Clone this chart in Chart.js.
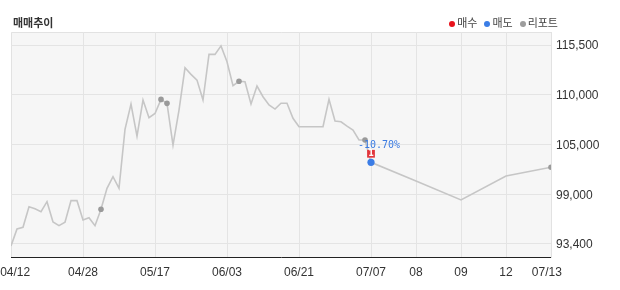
<!DOCTYPE html>
<html>
<head>
<meta charset="utf-8">
<script src="https://cdn.jsdelivr.net/npm/chart.js@4.4.0/dist/chart.umd.min.js"></script>
<style>
	body { margin: 0; background: #fff; }
	#quadro { position: relative; width: 620px; height: 290px; }
	#titulo { position: absolute; left: 13px; top: 16px; font: bold 11px "Noto Sans CJK KR"; line-height: 13px; color: #333; }
	#legenda { position: absolute; right: 62px; top: 16px; font: 11px "Noto Sans CJK KR"; line-height: 13px; color: #444; white-space: nowrap; }
	#legenda .pt { display: inline-block; width: 6px; height: 6px; border-radius: 50%; margin: 0 2px 1px 7px; vertical-align: middle; }
	#legenda .pt:first-child { margin-left: 0; }
</style>
</head>
<body>
<div id="quadro">
	<canvas id="graficoMercado" width="620" height="290"></canvas>
	<div id="titulo">매매추이</div>
	<div id="legenda"><span class="pt" style="background:#e8121b"></span>매수<span class="pt" style="background:#3b7de6"></span>매도<span class="pt" style="background:#9d9d9d"></span>리포트</div>
</div>
<script>
// dias de pregao (04/12 ~ 07/07)
var datasLinha = ['04/12','04/13','04/14','04/15','04/16','04/19','04/20','04/21','04/22','04/23','04/26','04/27','04/28','04/29','04/30',
	'05/03','05/04','05/06','05/07','05/10','05/11','05/12','05/13','05/14','05/17','05/18','05/20','05/21','05/24','05/25','05/26','05/27','05/28','05/31',
	'06/01','06/02','06/03','06/04','06/07','06/08','06/09','06/10','06/11','06/14','06/15','06/16','06/17','06/18','06/21','06/22','06/23','06/24','06/25','06/28','06/29','06/30',
	'07/01','07/02','07/05','07/06','07/07'];
var fechamento = [93180, 95070, 95250, 97540, 97320, 96990, 98100, 95840, 95430, 95810, 98210, 98210, 96070, 96320, 95430,
	97250, 99580, 100870, 99580, 106130, 108950, 105390, 109390, 107420, 107900, 109460, 109020, 104390, 108280, 112970, 112240, 111610, 109390, 114460,
	114460, 115410, 113650, 110980, 111470, 111430, 108950, 110950, 109760, 108840, 108390, 109030, 109030, 107360, 106430, 106430, 106430, 106430, 106430, 109470, 107060, 106980,
	106500, 106060, 104950, 104950, 102470];

// trecho final (espacamento largo)
var datasFinal = ['07/08', '07/09', '07/12', '07/13'];
var fechamentoFinal = [100400, 98290, 100950, 101920];

var datasRelatorio = ['05/03', '05/18', '05/20', '06/07', '07/06', '07/13'];
var datasCompra = ['07/07'];
var valoresCompra = [103420];
var qtdCompra = ['1'];
var datasVenda = ['07/07'];
var retornoVenda = ['-10.70%'];

var rotulosXDatas = ['04/12', '04/28', '05/17', '06/03', '06/21', '07/07', '07/08', '07/09', '07/12', '07/13'];
var rotulosXTexto = ['04/12', '04/28', '05/17', '06/03', '06/21', '07/07', '08', '09', '12', '07/13'];
var rotulosY = ['93,400', '99,000', '105,000', '110,000', '115,500'];
var rotuloYMin = 93400;
var rotuloYMax = 115500;

var passoFinal = 7.5;
var todasDatas = datasLinha.concat(datasFinal);
var todosValores = fechamento.concat(fechamentoFinal);

function posicao(data) {
	var i = datasLinha.indexOf(data);
	if (i >= 0) return i;
	return (datasLinha.length - 1) + (datasFinal.indexOf(data) + 1) * passoFinal;
}

function valorEm(data) {
	return todosValores[todasDatas.indexOf(data)];
}

var posMaxX = posicao(datasFinal[datasFinal.length - 1]);

var fundo = {
	id: 'fundo',
	beforeDraw: function(chart) {
		var ctx = chart.ctx, a = chart.chartArea;
		ctx.save();
		ctx.fillStyle = '#f6f6f6';
		ctx.fillRect(a.left, a.top, a.right - a.left, a.bottom - a.top);
		ctx.strokeStyle = '#e2e2e2';
		ctx.lineWidth = 1;
		ctx.beginPath();
		ctx.moveTo(a.left + 0.5, a.bottom);
		ctx.lineTo(a.left + 0.5, a.top + 0.5);
		ctx.lineTo(a.right, a.top + 0.5);
		ctx.stroke();
		ctx.restore();
	}
};

var anotacao = {
	id: 'anotacao',
	afterDatasetsDraw: function(chart) {
		var ctx = chart.ctx;
		ctx.save();
		ctx.textAlign = 'center';
		ctx.textBaseline = 'middle';
		chart.getDatasetMeta(0).data.forEach(function(p, i) {
			ctx.font = 'bold 8px "DejaVu Sans"';
			ctx.fillStyle = '#fff';
			ctx.fillText(qtdCompra[i], p.x, p.y);
		});
		chart.getDatasetMeta(1).data.forEach(function(p, i) {
			ctx.font = '10px "DejaVu Sans Mono"';
			ctx.fillStyle = '#3a7be2';
			ctx.fillText(retornoVenda[i], p.x + 8, p.y - 17);
		});
		ctx.restore();
	}
};

var grafico = new Chart(document.getElementById('graficoMercado').getContext('2d'), {
	type: 'line',
	data: {
		datasets: [{
			label: '매수',
			data: datasCompra.map(function(d, i) { return {x: posicao(d), y: valoresCompra[i]}; }),
			showLine: false,
			pointStyle: 'rect',
			pointRadius: 5.5,
			pointBackgroundColor: '#e2363c',
			pointBorderWidth: 0
		}, {
			label: '매도',
			data: datasVenda.map(function(d) { return {x: posicao(d), y: valorEm(d)}; }),
			showLine: false,
			pointRadius: 3.6,
			pointBackgroundColor: '#3b7de6',
			pointBorderWidth: 0
		}, {
			label: '리포트',
			data: datasRelatorio.map(function(d) { return {x: posicao(d), y: valorEm(d)}; }),
			showLine: false,
			pointRadius: 2.8,
			pointBackgroundColor: '#9a9a9a',
			pointBorderWidth: 0
		}, {
			label: '종가',
			data: todasDatas.map(function(d, i) { return {x: posicao(d), y: todosValores[i]}; }),
			borderColor: '#c6c6c6',
			borderWidth: 1.6,
			pointRadius: 0,
			tension: 0,
			fill: false
		}]
	},
	options: {
		responsive: false,
		animation: false,
		devicePixelRatio: 1,
		layout: { padding: { left: 11, top: 32, right: 0, bottom: 0 } },
		plugins: {
			legend: { display: false },
			tooltip: { enabled: false }
		},
		events: [],
		scales: {
			x: {
				type: 'linear',
				min: 0,
				max: posMaxX,
				afterBuildTicks: function(s) {
					s.ticks = rotulosXDatas.map(function(d, i) {
						var v = posicao(d);
						if (i === 0) v += 0.7;
						if (i === rotulosXDatas.length - 1) v -= 0.7;
						return {value: v};
					});
				},
				afterFit: function(s) {
					s.height = 33;
					s.paddingLeft = 0;
					s.paddingRight = 0;
				},
				ticks: {
					autoSkip: false,
					maxRotation: 0,
					padding: 8,
					color: '#333',
					font: { family: '"Liberation Sans"', size: 12 },
					callback: function(v, i) { return rotulosXTexto[i]; }
				},
				grid: {
					drawTicks: false,
					color: function(c) {
						return (c.index === 0 || c.index === rotulosXDatas.length - 1) ? 'rgba(0,0,0,0)' : '#e4e4e4';
					}
				},
				border: { color: '#222', width: 1 }
			},
			y: {
				position: 'right',
				min: 91950,
				max: 116950,
				afterBuildTicks: function(s) {
					var passo = (rotuloYMax - rotuloYMin) / (rotulosY.length - 1);
					s.ticks = rotulosY.map(function(r, i) { return {value: rotuloYMin + passo * i}; });
				},
				afterFit: function(s) {
					s.width = 69;
				},
				ticks: {
					padding: 5,
					labelOffset: 1,
					color: '#333',
					font: { family: '"Liberation Sans"', size: 12 },
					callback: function(v, i) { return rotulosY[i]; }
				},
				grid: { drawTicks: false, color: '#e4e4e4' },
				border: { color: '#e2e2e2' }
			}
		}
	},
	plugins: [fundo, anotacao]
});
</script>
</body>
</html>
